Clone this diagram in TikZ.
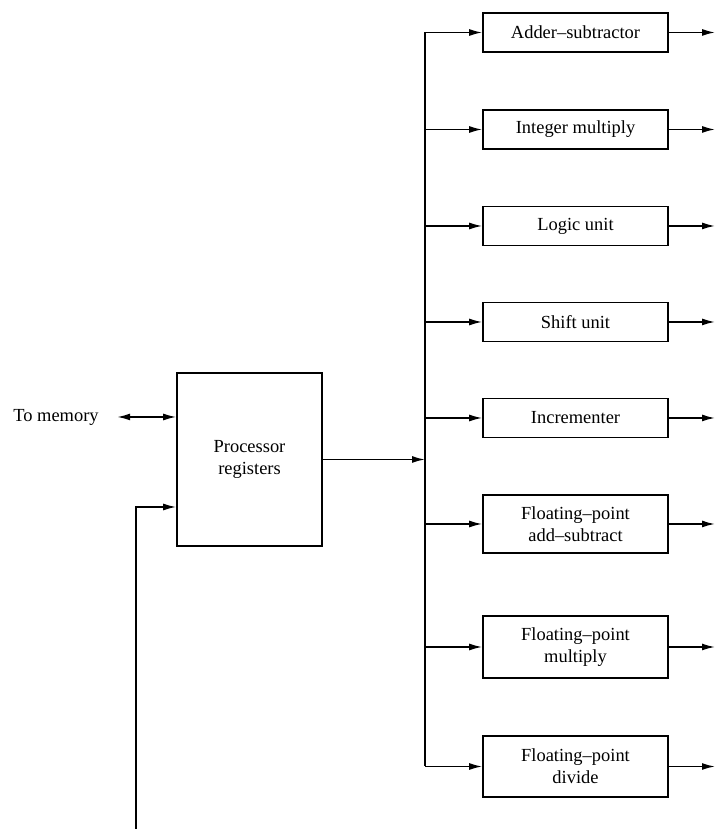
\documentclass[tikz,border=0pt]{standalone}
\usepackage{fontspec}
\setmainfont{Liberation Serif}
\usetikzlibrary{arrows.meta}
\usetikzlibrary{positioning}

\tikzset{unit/.style={draw, line width=0.9pt, minimum width=3.7cm, minimum height=0.78cm, align=center, inner sep=2pt, font=\fontsize{10.5}{12.5}\selectfont}}

\begin{document}
\begin{tikzpicture}[line width=0.9pt, >={Latex[length=2.6mm,width=1.4mm]}]
  \useasboundingbox (0,0) rectangle (14.34,16.58);

  % Registers
  \node[unit, minimum width=2.9cm, minimum height=3.46cm] (reg) at (4.99,7.39) {Processor\\registers};
  \coordinate (memin) at ([yshift=0.85cm]reg.west);
  \coordinate (fbin) at ([yshift=-0.95cm]reg.west);
  \node[left=1.5cm of memin, inner sep=1pt, font=\fontsize{10.5}{12.5}\selectfont] (mem) {To memory};
  \draw[<->] ([xshift=0.32cm]mem.east) -- (memin);

  % feedback path
  \coordinate (fb) at (2.72,0);
  \draw[->] (fb) |- (fbin);

  % Functional units
  \node[unit] (add) at (11.51,15.93) {Adder--subtractor};
  \node[unit] (mul) at (11.51,13.99) {Integer multiply};
  \node[unit] (logic) at (11.51,12.06) {Logic unit};
  \node[unit] (shift) at (11.51,10.14) {Shift unit};
  \node[unit] (inc) at (11.51,8.22) {Incrementer};
  \node[unit, minimum height=1.16cm] (fadd) at (11.51,6.10) {Floating--point\\add--subtract};
  \node[unit, minimum height=1.24cm] (fmul) at (11.51,3.64) {Floating--point\\multiply};
  \node[unit, minimum height=1.22cm] (fdiv) at (11.51,1.25) {Floating--point\\divide};

  % Bus
  \coordinate (bus) at (8.5,0);
  \coordinate (out) at (14.3,0);
  \draw (add.west -| bus) -- (fdiv.west -| bus);
  \draw[->] (reg.east) -- (reg.east -| bus);

  \foreach \u in {add,mul,logic,shift,inc,fadd,fmul,fdiv} {
    \draw[->] (\u.west -| bus) -- (\u.west);
    \draw[->] (\u.east) -- (\u.east -| out);
  }

\end{tikzpicture}
\end{document}
